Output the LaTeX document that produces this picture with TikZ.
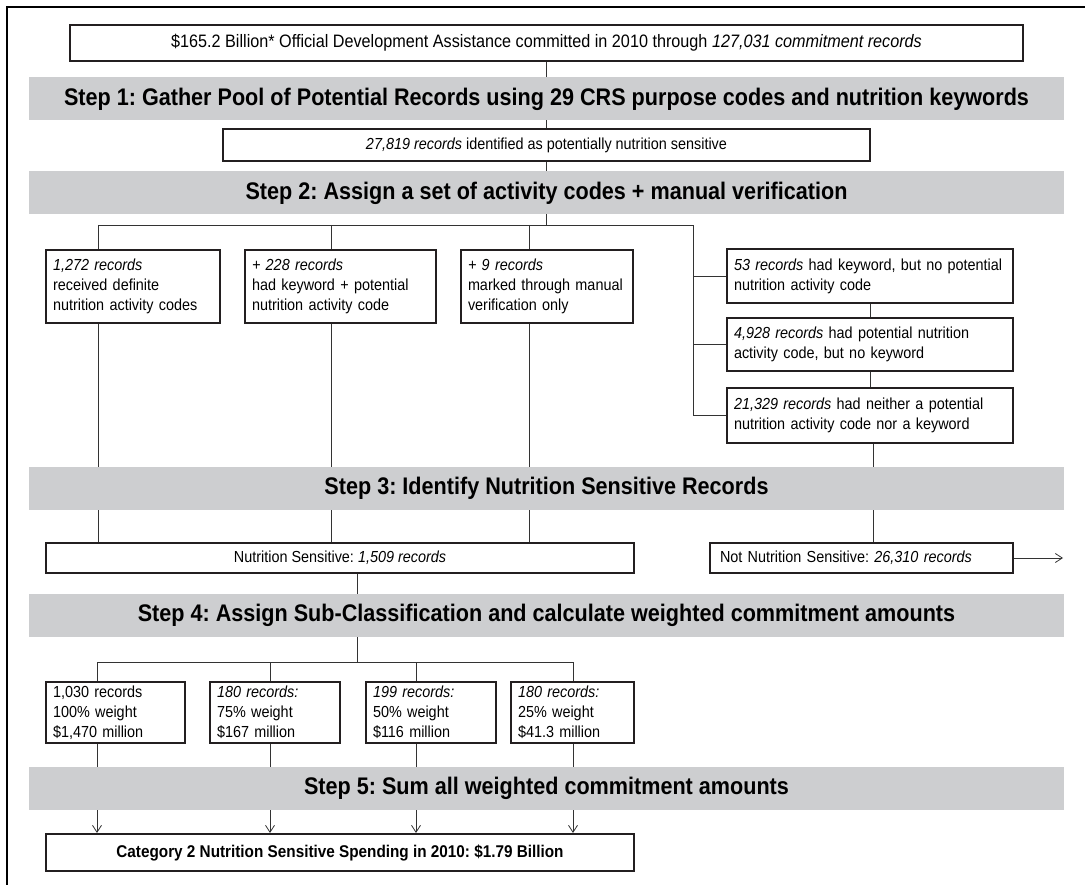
\documentclass[tikz,border=0pt]{standalone}
\usepackage{fontspec}
\setmainfont{Liberation Sans}[FakeStretch=0.9]
\usepackage{tikz}
\usetikzlibrary{arrows.meta, positioning, calc, backgrounds}
\definecolor{bandgray}{RGB}{205,206,208}
\definecolor{boxline}{RGB}{35,31,32}
\frenchspacing

\begin{document}
\begin{tikzpicture}[x=1pt, y=-1pt, >={Straight Barb[length=7pt, width=9pt]},
  box/.style={draw=boxline, line width=2pt, fill=white, inner sep=0pt,
              font=\fontsize{16}{20}\selectfont},
  leftbox/.style={box, align=left, inner xsep=7pt, text width=#1},
  stepband/.style={fill=bandgray, inner sep=0pt, minimum width=1035pt,
                   minimum height=43pt, font=\fontsize{24}{28}\selectfont\bfseries},
  link/.style={draw=black!80, line width=0.8pt}]
  \useasboundingbox (0,0) rectangle (1085,885);
  % frame
  \draw[line width=2.5pt] (7,885) -- (7,7) -- (1085,7);

  % step 1
  \node[box, minimum width=953pt, minimum height=36pt, font=\fontsize{18}{20}\selectfont]
    (total) at (546.5,43) {\$165.2 Billion* Official Development Assistance committed in 2010 through \textit{127,031 commitment records}};
  \node[stepband] (step1) at (546.5,99) {Step 1: Gather Pool of Potential Records using 29 CRS purpose codes and nutrition keywords};
  \node[box, minimum width=647pt, minimum height=32pt] (pool) at (546.5,145)
    {\textit{27,819 records} identified as potentially nutrition sensitive};

  % step 2
  \node[stepband] (step2) at (546.5,193) {Step 2: Assign a set of activity codes + manual verification};
  \node[leftbox=160pt, minimum height=73pt] (defin) at (133,286.5)
    {\textit{1,272 records}\\ received definite\\ nutrition activity codes};
  \node[leftbox=177pt, minimum height=73pt] (kwcode) at (340.5,286.5)
    {\textit{+ 228 records}\\ had keyword + potential\\ nutrition activity code};
  \node[leftbox=158pt, minimum height=73pt] (manual) at (547,286.5)
    {\textit{+ 9 records}\\ marked through manual\\ verification only};
  \node[leftbox=272pt, minimum height=54pt] (kwonly) at (870,276)
    {\textit{53 records} had keyword, but no potential\\ nutrition activity code};
  \node[leftbox=272pt, minimum height=53pt] (codeonly) at (870,344.5)
    {\textit{4,928 records} had potential nutrition\\ activity code, but no keyword};
  \node[leftbox=272pt, minimum height=55pt] (neither) at (870,415.5)
    {\textit{21,329 records} had neither a potential\\ nutrition activity code nor a keyword};

  % step 3
  \node[stepband] (step3) at (546.5,488.5) {Step 3: Identify Nutrition Sensitive Records};
  \node[box, minimum width=588pt, minimum height=30pt] (sens) at (340,558)
    {Nutrition Sensitive: \textit{1,509 records}};
  \node[leftbox=283pt, inner xsep=10pt, minimum height=30pt] (notsens) at (861.5,558)
    {Not Nutrition Sensitive: \textit{26,310 records}};
  \coordinate (out) at (1063,558);

  % step 4
  \node[stepband] (step4) at (546.5,615) {Step 4: Assign Sub-Classification and calculate weighted commitment amounts};
  \node[leftbox=125pt, minimum height=61pt] (wfull) at (115.5,712.5)
    {1,030 records\\ 100\% weight\\ \$1,470 million};
  \node[leftbox=116pt, minimum height=61pt] (wmost) at (275,712.5)
    {\textit{180 records:}\\ 75\% weight\\ \$167 million};
  \node[leftbox=116pt, minimum height=61pt] (whalf) at (431,712.5)
    {\textit{199 records:}\\ 50\% weight\\ \$116 million};
  \node[leftbox=109pt, minimum height=61pt] (wsome) at (572.5,712.5)
    {\textit{180 records:}\\ 25\% weight\\ \$41.3 million};

  % step 5
  \node[stepband] (step5) at (546.5,788) {Step 5: Sum all weighted commitment amounts};
  \node[box, minimum width=588pt, minimum height=37pt, font=\fontsize{17}{20}\selectfont\bfseries]
    (spend) at (340,852.5) {Category 2 Nutrition Sensitive Spending in 2010: \$1.79 Billion};

  % drop points
  \coordinate (split) at (693,225);
  \coordinate (bus4) at (357,662);
  \path (defin.north west) ++(53,0) coordinate (d1)
        (kwcode.north west) ++(87,0) coordinate (d2)
        (manual.north west) ++(69,0) coordinate (d3)
        (wfull.north west) ++(52,0) coordinate (w1)
        (wmost.north west) ++(61,0) coordinate (w2)
        (whalf.north west) ++(51,0) coordinate (w3)
        (wsome.north west) ++(63,0) coordinate (w4);

  % connectors, behind bands and boxes
  \begin{scope}[on background layer]
    \draw[link] (total) -- (pool);
    \draw[link] (pool.south) -- (pool.south |- split);
    \draw[link] (d1 |- split) -- (split) -- (split |- neither.west) -- (neither.west);
    \draw[link] (kwonly.west) -- (kwonly.west -| split);
    \draw[link] (codeonly.west) -- (codeonly.west -| split);
    \draw[link] (kwonly) -- (codeonly);
    \draw[link] (codeonly) -- (neither);
    \foreach \d in {d1,d2,d3}
      \draw[link] (\d |- split) -- (\d |- sens.north);
    \draw[link] (neither.south) ++(3,0) coordinate (n0) -- (n0 |- notsens.north);
    \draw[link, ->] (notsens.east) -- (out);
    \draw[link] (bus4 |- sens.south) -- (bus4);
    \draw[link] (w1 |- bus4) -- (w4 |- bus4);
    \foreach \w in {w1,w2,w3,w4}{
      \draw[link] (\w |- bus4) -- (\w);
      \draw[link, ->] (\w |- wfull.south) -- (\w |- spend.north);
    }
  \end{scope}
\end{tikzpicture}
\end{document}
